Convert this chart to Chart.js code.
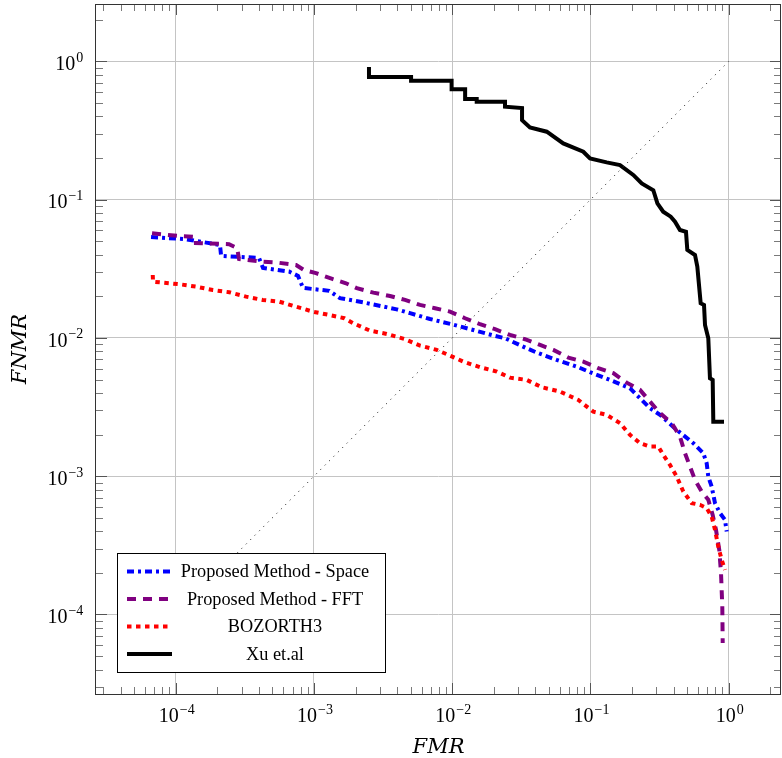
<!DOCTYPE html>
<html><head><meta charset="utf-8">
<script src="https://cdn.jsdelivr.net/npm/chart.js@4/dist/chart.umd.min.js"></script>
<style>html,body{margin:0;padding:0;background:#fff}#wrap{width:782px;height:758px}</style>
</head><body><div id="wrap"><canvas id="c" width="782" height="758"></canvas></div>
<script>
// ---- data ----
const xTickValues = [1e-4, 1e-3, 1e-2, 1e-1, 1];
const yTickValues = [1e-4, 1e-3, 1e-2, 1e-1, 1];

const seriesLabels = ['Proposed Method - Space', 'Proposed Method - FFT', 'BOZORTH3', 'Xu et.al'];

const spaceFMR = [6.63e-5, 1.19e-4, 1.66e-4, 2.09e-4, 2.13e-4, 4.0e-4, 4.28e-4, 6.6e-4, 7.67e-4, 8.33e-4,
  1.29e-3, 1.54e-3, 2.26e-3, 3.97e-3, 4.95e-3, 6.91e-3, 9.92e-3, 1.42e-2, 2.04e-2, 2.41e-2,
  3.46e-2, 4.09e-2, 5.70e-2, 8.17e-2, 0.0993, 0.1385, 0.193, 0.222, 0.270, 0.3185,
  0.421, 0.555, 0.655, 0.693, 0.712, 0.753, 0.796, 0.865, 0.940, 0.967];
const spaceFNMR = [0.0537, 0.0517, 0.0489, 0.0470, 0.0392, 0.0379, 0.0321, 0.0302, 0.0281, 0.0230,
  0.0219, 0.0194, 0.0181, 0.0161, 0.0151, 0.0137, 0.01256, 0.01142, 0.01034, 0.00995,
  0.00842, 0.00783, 0.00693, 0.00614, 0.00565, 0.00497, 0.00433, 0.00376, 0.00310, 0.00278,
  0.00216, 0.001734, 0.001468, 0.001243, 0.000994, 0.000842, 0.000639, 0.000541, 0.000484, 0.000398];

const fftFMR = [6.74e-5, 1.057e-4, 1.40e-4, 1.40e-4, 2.43e-4, 2.78e-4, 2.87e-4, 4.21e-4, 5.50e-4, 7.42e-4,
  8.47e-4, 1.035e-3, 1.373e-3, 1.705e-3, 2.04e-3, 2.69e-3, 3.55e-3, 4.56e-3, 5.85e-3, 7.51e-3,
  9.64e-3, 1.238e-2, 1.589e-2, 2.04e-2, 2.62e-2, 3.36e-2, 4.32e-2, 5.39e-2, 6.92e-2, 8.88e-2,
  0.114, 0.1463, 0.1829, 0.2283, 0.2697, 0.3185, 0.387, 0.444, 0.483, 0.525,
  0.5705, 0.638, 0.712, 0.766, 0.809, 0.855, 0.880, 0.899, 0.905];
const fftFNMR = [0.0571, 0.0546, 0.0537, 0.0486, 0.0476, 0.0447, 0.0372, 0.0356, 0.0350, 0.0337,
  0.0310, 0.0294, 0.0266, 0.02485, 0.0229, 0.02125, 0.0201, 0.01883, 0.01732, 0.0164,
  0.01549, 0.01388, 0.01256, 0.01156, 0.01051, 0.00979, 0.0089, 0.00819, 0.00721, 0.00674,
  0.00604, 0.00556, 0.00475, 0.00421, 0.00346, 0.00286, 0.00242, 0.001934, 0.001468, 0.001174,
  0.000941, 0.000774, 0.000675, 0.000525, 0.00041, 0.000293, 0.000199, 0.000114, 0.0000621];

const bozFMR = [6.82e-5, 6.85e-5, 1.062e-4, 1.403e-4, 1.852e-4, 2.44e-4, 3.23e-4, 4.26e-4, 5.62e-4, 7.42e-4,
  9.79e-4, 1.291e-3, 1.658e-3, 1.926e-3, 2.54e-3, 3.36e-3, 4.56e-3, 5.85e-3, 7.73e-3, 9.37e-3,
  1.203e-2, 1.589e-2, 2.10e-2, 2.62e-2, 3.46e-2, 4.44e-2, 6.02e-2, 8.17e-2, 0.1049, 0.131,
  0.1636, 0.1932, 0.2283, 0.2697, 0.3096, 0.3365, 0.376, 0.4206, 0.4695, 0.54,
  0.62, 0.693, 0.753, 0.796, 0.841, 0.89, 0.94];
const bozFNMR = [0.0285, 0.0255, 0.02445, 0.0235, 0.0222, 0.0214, 0.01989, 0.01883, 0.01829, 0.01684,
  0.01549, 0.01466, 0.01388, 0.01277, 0.01129, 0.01069, 0.00979, 0.0088, 0.00819, 0.00754,
  0.00674, 0.00614, 0.00571, 0.00516, 0.00497, 0.0044, 0.00409, 0.00356, 0.00293, 0.00278,
  0.00242, 0.00199, 0.001734, 0.001638, 0.001638, 0.001427, 0.001208, 0.000994, 0.000774, 0.000639,
  0.000621, 0.000588, 0.000511, 0.00041, 0.00031, 0.000248, 0.00021];

const xuFMR = [2.50e-3, 2.50e-3, 5.04e-3, 5.04e-3, 9.9e-3, 9.9e-3, 0.0124, 0.0124, 0.01504, 0.01504,
  0.0241, 0.0241, 0.032, 0.032, 0.0365, 0.0483, 0.0636, 0.0888, 0.0993, 0.131,
  0.1636, 0.204, 0.235, 0.285, 0.305, 0.336, 0.381, 0.409, 0.444, 0.491,
  0.502, 0.5705, 0.593, 0.627, 0.663, 0.674, 0.712, 0.732, 0.766, 0.774, 0.925];
const xuFNMR = [0.91, 0.770, 0.770, 0.724, 0.724, 0.630, 0.630, 0.534, 0.534, 0.511,
  0.511, 0.470, 0.46, 0.376, 0.333, 0.310, 0.255, 0.222, 0.199, 0.186,
  0.178, 0.151, 0.131, 0.117, 0.094, 0.0818, 0.0753, 0.0693, 0.0603, 0.0586,
  0.0433, 0.0398, 0.0328, 0.0178, 0.0173, 0.0124, 0.00995, 0.00511, 0.00497, 0.00248, 0.00248];

const diagFMR = [1e-4, 1];
const diagFNMR = [1e-4, 1];

const xRange = [2.65e-5, 2.39];
const yRange = [2.66e-5, 2.6];

// ---- helpers ----
const pts = (xs, ys) => xs.map((x, i) => ({x, y: ys[i]}));
const expOf = v => Math.round(Math.log10(v));
const expText = v => String(expOf(v)).replace('-', '\u2212');
const SERIF = '"Liberation Serif", "DejaVu Serif", serif';

// tick labels "10" with raised exponent, positioned from the library's scales
const powLabelPlugin = {
  id: 'powLabels',
  afterDraw(chart) {
    const {ctx, chartArea: ca, scales} = chart;
    ctx.save();
    ctx.fillStyle = '#000';
    ctx.textBaseline = 'alphabetic';
    ctx.textAlign = 'left';
    const baseFont = '20px ' + SERIF, expFont = '14px ' + SERIF;
    const measure = v => {
      ctx.font = baseFont; const w1 = ctx.measureText('10').width;
      ctx.font = expFont; const w2 = ctx.measureText(expText(v)).width;
      return {w1, w2, total: w1 + 1 + w2};
    };
    const draw = (v, x0, baseY, expY, m) => {
      ctx.font = baseFont; ctx.fillText('10', x0, baseY);
      ctx.font = expFont; ctx.fillText(expText(v), x0 + m.w1 + 1, expY);
    };
    xTickValues.forEach(v => {
      const px = scales.x.getPixelForValue(v);
      const m = measure(v);
      draw(v, px - m.total / 2 + 1, ca.bottom + 28, ca.bottom + 20.3, m);
    });
    yTickValues.forEach(v => {
      const py = scales.y.getPixelForValue(v);
      const m = measure(v);
      draw(v, ca.left - 12.7 - m.total, py + 8.7, py + 0.3, m);
    });
    ctx.restore();
  }
};

const framePlugin = {
  id: 'frameTicks',
  afterDatasetsDraw(chart) {
    const {ctx, chartArea: ca, scales} = chart;
    const L = ca.left, R = ca.right, T = ca.top, B = ca.bottom;
    ctx.save();
    ctx.lineWidth = 1;
    const minorLen = 7, majorLen = 11;
    const drawX = (v, len, col) => {
      const p = Math.round(scales.x.getPixelForValue(v)) + 0.5;
      if (p < L || p > R) return;
      ctx.strokeStyle = col;
      ctx.beginPath();
      ctx.moveTo(p, B); ctx.lineTo(p, B - len);
      ctx.moveTo(p, T); ctx.lineTo(p, T + len);
      ctx.stroke();
    };
    const drawY = (v, len, col) => {
      const p = Math.round(scales.y.getPixelForValue(v)) + 0.5;
      if (p < T || p > B) return;
      ctx.strokeStyle = col;
      ctx.beginPath();
      ctx.moveTo(L, p); ctx.lineTo(L + len, p);
      ctx.moveTo(R, p); ctx.lineTo(R - len, p);
      ctx.stroke();
    };
    for (let e = -5; e <= 0; e++) {
      for (let k = 2; k <= 9; k++) {
        drawX(k * Math.pow(10, e), minorLen, '#7a7a7a');
        drawY(k * Math.pow(10, e), minorLen, '#7a7a7a');
      }
    }
    xTickValues.forEach(v => drawX(v, majorLen, '#555'));
    yTickValues.forEach(v => drawY(v, majorLen, '#555'));
    ctx.strokeStyle = '#333';
    ctx.strokeRect(Math.round(L) - 0.5, Math.round(T) + 0.5, Math.round(R - L), Math.round(B - T));
    ctx.restore();
  }
};

const legendPlugin = {
  id: 'boxLegend',
  afterDatasetsDraw(chart) {
    const {ctx, chartArea: ca} = chart;
    const items = chart.data.datasets.filter(d => d.inLegend);
    const bw = 268, bh = 119;
    const bx = ca.left + 21, by = ca.bottom - 22 - bh;
    ctx.save();
    ctx.fillStyle = '#fff';
    ctx.fillRect(bx, by, bw, bh);
    ctx.strokeStyle = '#000';
    ctx.lineWidth = 1;
    ctx.strokeRect(bx + 0.5, by + 0.5, bw, bh);
    items.forEach((d, i) => {
      const cy = by + 18.5 + i * 27.5;
      ctx.beginPath();
      ctx.setLineDash(d.borderDash || []);
      ctx.lineWidth = d.borderWidth;
      ctx.strokeStyle = d.borderColor;
      ctx.moveTo(bx + 10, cy); ctx.lineTo(bx + 55, cy);
      ctx.stroke();
      ctx.setLineDash([]);
      ctx.fillStyle = '#000';
      ctx.font = '18.3px ' + SERIF;
      ctx.textAlign = 'center';
      ctx.textBaseline = 'middle';
      ctx.fillText(d.label, bx + 158, cy + 1);
    });
    ctx.restore();
  }
};

const noEdgePadding = s => { s.paddingTop = 0; s.paddingBottom = 0; s.paddingLeft = 0; s.paddingRight = 0; };
const common = {fill: false, pointRadius: 0, pointHoverRadius: 0, tension: 0, borderCapStyle: 'butt', borderJoinStyle: 'miter'};

new Chart(document.getElementById('c'), {
  type: 'line',
  data: {
    datasets: [
      Object.assign({label: seriesLabels[0], data: pts(spaceFMR, spaceFNMR), borderColor: '#0000ff', borderWidth: 4, borderDash: [7, 4, 3, 4], order: 4, inLegend: true}, common),
      Object.assign({label: seriesLabels[1], data: pts(fftFMR, fftFNMR), borderColor: '#800080', borderWidth: 4, borderDash: [9, 7], order: 3, inLegend: true}, common),
      Object.assign({label: seriesLabels[2], data: pts(bozFMR, bozFNMR), borderColor: '#ff0000', borderWidth: 4, borderDash: [4.5, 4.5], order: 2, inLegend: true}, common),
      Object.assign({label: seriesLabels[3], data: pts(xuFMR, xuFNMR), borderColor: '#000000', borderWidth: 4, order: 1, inLegend: true}, common),
      Object.assign({label: 'diagonal', data: pts(diagFMR, diagFNMR), borderColor: '#333', borderWidth: 1, borderDash: [1.2, 5], order: 0, inLegend: false}, common)
    ]
  },
  options: {
    responsive: false,
    animation: false,
    devicePixelRatio: 1,
    layout: {padding: {top: 4, right: 1, left: 0, bottom: 0}},
    plugins: {legend: {display: false}, tooltip: {enabled: false}},
    scales: {
      x: {
        type: 'logarithmic', position: 'bottom', min: xRange[0], max: xRange[1],
        afterBuildTicks: s => { s.ticks = xTickValues.map(v => ({value: v, major: true})); },
        afterFit: s => { s.height = 64; noEdgePadding(s); },
        ticks: {display: false, autoSkip: false},
        grid: {color: '#c4c4c4', lineWidth: 1, drawTicks: false},
        border: {display: false},
        title: {display: true, text: 'FMR', font: {family: '"DejaVu Serif", serif', size: 21, style: 'italic', lineHeight: 1.2}, color: '#000', padding: {top: 0, bottom: -2}}
      },
      y: {
        type: 'logarithmic', position: 'left', min: yRange[0], max: yRange[1],
        afterBuildTicks: s => { s.ticks = yTickValues.map(v => ({value: v, major: true})); },
        afterFit: s => { s.width = 96; noEdgePadding(s); },
        ticks: {display: false, autoSkip: false},
        grid: {color: '#c4c4c4', lineWidth: 1, drawTicks: false},
        border: {display: false},
        title: {display: true, text: 'FNMR', font: {family: '"DejaVu Serif", serif', size: 21, style: 'italic', lineHeight: 1.2}, color: '#000', padding: {top: 7.5, bottom: 0}}
      }
    }
  },
  plugins: [framePlugin, legendPlugin, powLabelPlugin]
});
</script>
</body></html>
